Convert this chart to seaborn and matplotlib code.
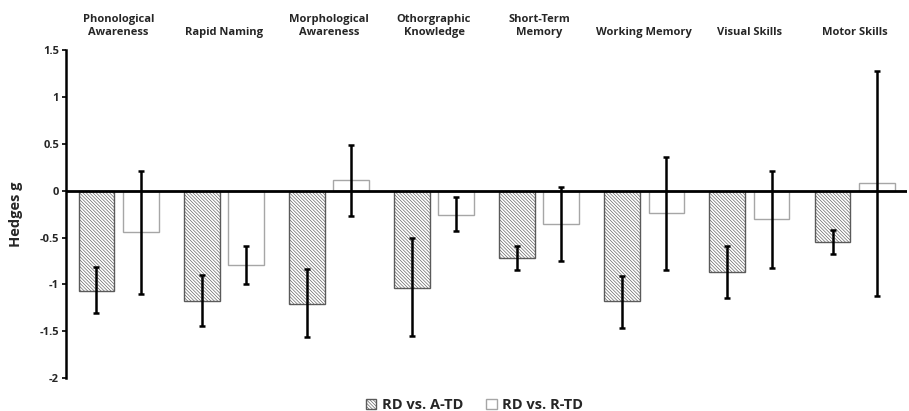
import matplotlib
matplotlib.use("Agg")
import matplotlib.pyplot as plt
import seaborn as sns
import pandas as pd
import numpy as np

categories = ["Phonological\nAwareness", "Rapid Naming", "Morphological\nAwareness",
              "Othorgraphic\nKnowledge", "Short-Term\nMemory", "Working Memory",
              "Visual Skills", "Motor Skills"]
series = ["RD vs. A-TD", "RD vs. R-TD"]

atd_g = [-1.07, -1.18, -1.21, -1.04, -0.72, -1.18, -0.87, -0.545]
atd_lo = [-1.31, -1.44, -1.56, -1.55, -0.845, -1.46, -1.14, -0.675]
atd_hi = [-0.81, -0.90, -0.84, -0.51, -0.59, -0.905, -0.585, -0.415]

rtd_g = [-0.445, -0.79, 0.11, -0.255, -0.355, -0.24, -0.305, 0.08]
rtd_lo = [-1.10, -0.995, -0.275, -0.435, -0.745, -0.845, -0.825, -1.125]
rtd_hi = [0.21, -0.595, 0.49, -0.065, 0.04, 0.36, 0.215, 1.28]

yticks = [-2, -1.5, -1, -0.5, 0, 0.5, 1, 1.5]
ytick_labels = ["-2", "-1.5", "-1", "-0.5", "0", "0.5", "1", "1.5"]

sns.set_theme(style="white")
plt.rcParams["font.family"] = ["Open Sans", "DejaVu Sans"]
plt.rcParams["font.weight"] = "bold"
plt.rcParams["hatch.linewidth"] = 0.45

df = pd.DataFrame({
    "domain": categories * 2,
    "g": atd_g + rtd_g,
    "comparison": [series[0]] * len(categories) + [series[1]] * len(categories),
})

fig = plt.figure(figsize=(9.09, 4.11), dpi=100)
ax = fig.add_axes([0.0726, 0.080, 0.9254, 0.798])

sns.barplot(data=df, x="domain", y="g", hue="comparison", order=categories,
            hue_order=series, width=0.84, gap=0.19, errorbar=None,
            palette=["#d9d9d9", "white"], legend=False, ax=ax)

cont_a, cont_r = ax.containers[0], ax.containers[1]
for p in cont_a:
    p.set_facecolor("white")
    p.set_edgecolor("#5a5a5a")
    p.set_hatch("\\" * 10)
    p.set_linewidth(1.0)
for p in cont_r:
    p.set_facecolor("white")
    p.set_edgecolor("#a6a6a6")
    p.set_linewidth(1.0)

for cont, g, lo, hi in [(cont_a, atd_g, atd_lo, atd_hi), (cont_r, rtd_g, rtd_lo, rtd_hi)]:
    xs = [p.get_x() + p.get_width() / 2 for p in cont]
    g = np.array(g); lo = np.array(lo); hi = np.array(hi)
    ax.errorbar(xs, g, yerr=[g - lo, hi - g], fmt="none", ecolor="black",
                elinewidth=1.8, capsize=2.2, capthick=1.8, zorder=5)

ax.axhline(0, color="black", lw=2, zorder=6)
ax.set_ylim(-2, 1.5)
ax.set_xlim(-0.5, len(categories) - 0.5)
ax.set_yticks(yticks)
ax.set_yticklabels(ytick_labels, fontsize=8, fontweight="bold")
ax.tick_params(axis="y", left=True, length=3, width=1.2, pad=2, color="black")
ax.xaxis.tick_top()
ax.tick_params(axis="x", top=False, bottom=False, length=0, pad=9)
for lab in ax.get_xticklabels():
    lab.set_fontsize(8)
    lab.set_fontweight("bold")
    lab.set_linespacing(1.2)
ax.set_xlabel("")
ax.set_ylabel("Hedges g", fontsize=10.5, fontweight="bold", labelpad=12)

for s in ["top", "right", "bottom"]:
    ax.spines[s].set_visible(False)
ax.spines["left"].set_color("black")
ax.spines["left"].set_linewidth(1.8)

fig.legend([cont_a, cont_r], series, loc="lower center", bbox_to_anchor=(0.522, -0.035),
           ncol=2, frameon=False, handlelength=0.7, handleheight=0.7,
           columnspacing=1.6, handletextpad=0.4, prop={"size": 10.5, "weight": "bold"})

fig.savefig("out.png", dpi=100)
